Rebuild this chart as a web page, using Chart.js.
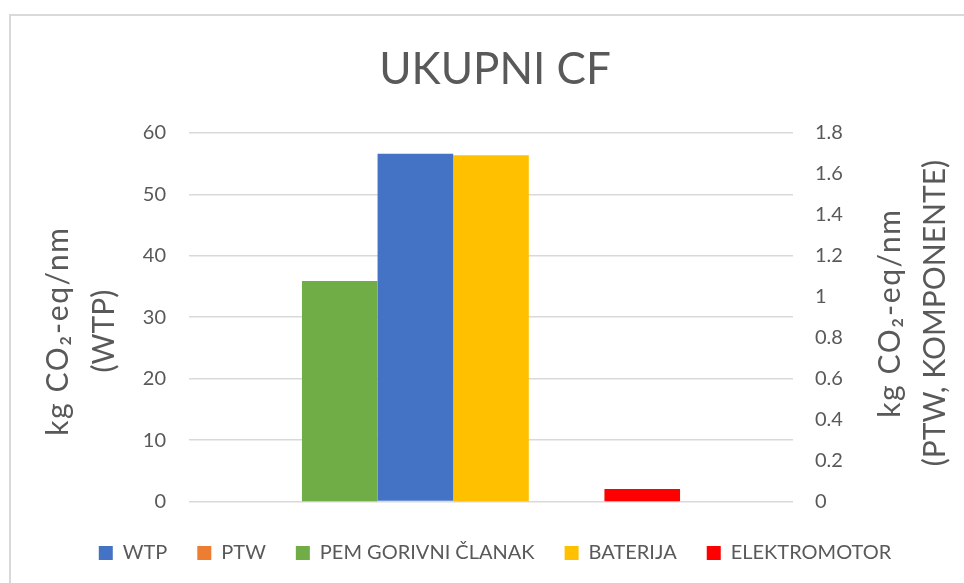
<!DOCTYPE html>
<html>
<head>
<meta charset="utf-8">
<title>UKUPNI CF</title>
<script src="https://cdn.jsdelivr.net/npm/chart.js@4/dist/chart.umd.min.js"></script>
<style>
    html, body { margin: 0; padding: 0; background: #fff; overflow: hidden; }
    #wrap { position: relative; width: 990px; height: 583px; }
</style>
</head>
<body>
<div id="wrap"><canvas id="cf-chart"></canvas></div>
<script>
// One category, every series is its own bar in the group
const categories = [''];
const seriesNames = ['PEM GORIVNI ČLANAK', 'WTP', 'BATERIJA', 'PTW', 'ELEKTROMOTOR'];
const seriesValues = [[1.076], [56.6], [1.69], [0], [0.061]];
const seriesAxis = ['y1', 'y', 'y1', 'y1', 'y1'];
const seriesColors = ['#70AD47', '#4472C4', '#FFC000', '#ED7D31', '#FF0000'];
const legendOrder = ['WTP', 'PTW', 'PEM GORIVNI ČLANAK', 'BATERIJA', 'ELEKTROMOTOR'];

const leftTicks = { min: 0, max: 60, step: 10 };
const rightTicks = { min: 0, max: 1.8, step: 0.2 };
const leftTitle = ['kg CO₂-eq/nm', '(WTP)'];
const rightTitle = ['kg CO₂-eq/nm', '(PTW, KOMPONENTE)'];

const textColor = '#595959';
const gridColor = '#D9D9D9';
const fontFamily = 'Lato, "Liberation Sans", sans-serif';

// frame line along the top and left edge
const framePlugin = {
    id: 'frame',
    afterDraw(chart) {
        const ctx = chart.ctx;
        ctx.save();
        ctx.strokeStyle = gridColor;
        ctx.lineWidth = 2;
        ctx.beginPath();
        ctx.moveTo(10, chart.height);
        ctx.lineTo(10, 15);
        ctx.lineTo(chart.width, 15);
        ctx.stroke();
        ctx.restore();
    }
};

// both axis titles read bottom-to-top, so they are drawn here
const axisTitlePlugin = {
    id: 'axisTitles',
    afterDraw(chart) {
        const ctx = chart.ctx;
        const area = chart.chartArea;
        const midY = (area.top + area.bottom) / 2;
        const drawLines = (lines, xs, y) => {
            lines.forEach((line, i) => {
                ctx.save();
                ctx.translate(xs[i], y);
                ctx.rotate(-Math.PI / 2);
                // the unit line is set a little wider
                ctx.letterSpacing = i === 0 ? '1.6px' : '0px';
                ctx.fillText(line, 0, 0);
                ctx.restore();
            });
        };
        ctx.save();
        ctx.fillStyle = textColor;
        ctx.font = '30px ' + fontFamily;
        ctx.textAlign = 'center';
        ctx.textBaseline = 'middle';
        drawLines(leftTitle, [area.left - 131, area.left - 85], midY + 14);
        drawLines(rightTitle, [area.right + 97, area.right + 142], midY - 4);
        ctx.restore();
    }
};

const datasets = seriesNames.map((name, i) => ({
    label: name,
    data: seriesValues[i],
    yAxisID: seriesAxis[i],
    backgroundColor: seriesColors[i],
    borderWidth: 0,
    categoryPercentage: 0.626,
    barPercentage: 1
}));

new Chart(document.getElementById('cf-chart'), {
    type: 'bar',
    data: { labels: categories, datasets: datasets },
    plugins: [framePlugin, axisTitlePlugin],
    options: {
        responsive: true,
        maintainAspectRatio: false,
        animation: false,
        layout: { padding: { top: 0, left: 0, right: 0, bottom: 10 } },
        plugins: {
            title: {
                display: true,
                text: 'UKUPNI CF',
                color: textColor,
                font: { family: fontFamily, size: 44, weight: 'normal' },
                padding: { top: 43, bottom: 37 }
            },
            legend: {
                position: 'bottom',
                labels: {
                    color: textColor,
                    font: { family: fontFamily, size: 20 },
                    boxWidth: 14,
                    boxHeight: 14,
                    padding: 30,
                    sort: (a, b) => legendOrder.indexOf(a.text) - legendOrder.indexOf(b.text)
                }
            },
            tooltip: { enabled: false }
        },
        scales: {
            x: {
                ticks: { display: false },
                grid: { display: false },
                border: { display: false },
                afterFit(scale) { scale.height = 11.5; }
            },
            y: {
                position: 'left',
                min: leftTicks.min,
                max: leftTicks.max,
                ticks: {
                    stepSize: leftTicks.step,
                    color: textColor,
                    padding: 23,
                    font: { family: fontFamily, size: 20 }
                },
                grid: { color: gridColor, lineWidth: 1.5, drawTicks: false },
                border: { display: false },
                afterFit(scale) { scale.width = 189; }
            },
            y1: {
                position: 'right',
                min: rightTicks.min,
                max: rightTicks.max,
                ticks: {
                    stepSize: rightTicks.step,
                    color: textColor,
                    padding: 22,
                    font: { family: fontFamily, size: 20 },
                    callback: v => String(+v.toFixed(1))
                },
                grid: { display: false, drawTicks: false },
                border: { display: false },
                afterFit(scale) { scale.width = 197; }
            }
        }
    }
});
</script>
</body>
</html>
